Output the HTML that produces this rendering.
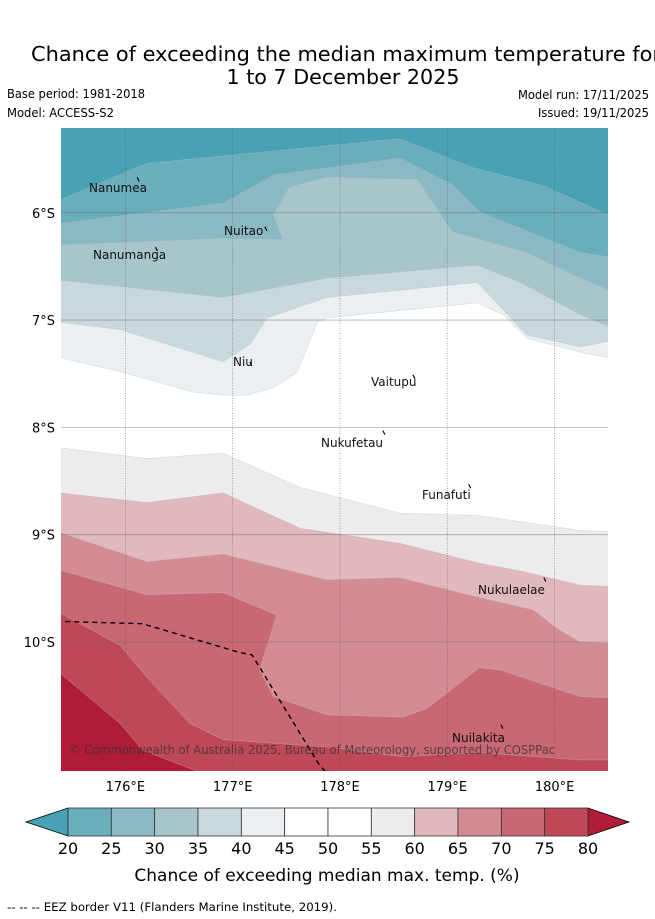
<!DOCTYPE html>
<html><head><meta charset="utf-8"><style>
html,body{margin:0;padding:0;background:#fff;}
svg{display:block;font-family:"DejaVu Sans","Liberation Sans",sans-serif;}
</style></head><body>
<svg id="chart" width="655" height="919" viewBox="0 0 655 919" xmlns="http://www.w3.org/2000/svg">
<text x="31" y="61" font-size="20" textLength="630" lengthAdjust="spacingAndGlyphs">Chance of exceeding the median maximum temperature for</text>
<text x="343" y="84" font-size="20" text-anchor="middle" textLength="233" lengthAdjust="spacingAndGlyphs">1 to 7 December 2025</text>
<text x="7" y="98" font-size="12" textLength="138" lengthAdjust="spacingAndGlyphs">Base period: 1981-2018</text>
<text x="7" y="117" font-size="12" textLength="107" lengthAdjust="spacingAndGlyphs">Model: ACCESS-S2</text>
<text x="649" y="99" font-size="12" text-anchor="end" textLength="131" lengthAdjust="spacingAndGlyphs">Model run: 17/11/2025</text>
<text x="649" y="117" font-size="12" text-anchor="end" textLength="111" lengthAdjust="spacingAndGlyphs">Issued: 19/11/2025</text>
<defs><clipPath id="mapclip"><rect x="61" y="128" width="547" height="643"/></clipPath></defs>
<g id="map" clip-path="url(#mapclip)"></g>
<g id="axes"></g>
<g id="cbar"></g>
<text x="327" y="881" font-size="17" text-anchor="middle">Chance of exceeding median max. temp. (%)</text>
<text x="7" y="911" font-size="11.5" textLength="330" lengthAdjust="spacingAndGlyphs">-- -- -- EEZ border V11 (Flanders Marine Institute, 2019).</text>
</svg>
<script>
const levels = [20,25,30,35,40,45,55,60,65,70,75,80];
const bandColors = ["#48a1b4","#6aadbb","#8ab8c3","#a8c6ca","#c8d8dd","#ebeff2","#ffffff","#eeebec","#e0b8bd","#d48c94","#c96872","#bf4857","#b01c38"];
const cbarLabels = [20,25,30,35,40,45,50,55,60,65,70,75,80];
const lonTicks = [176,177,178,179,180];
const latTicks = [6,7,8,9,10];
// contour boundaries [lon, lat(S)] for each threshold
const b20 = [[175.39,5.88],[176.2,5.54],[178.56,5.31],[179.24,5.58],[179.9,5.75],[180.5,6.02]];
const b25 = [[175.39,6.10],[176.91,5.91],[177.38,5.65],[178.56,5.49],[179.05,5.74],[179.3,5.99],[180.24,6.37],[180.5,6.41]];
const b30 = [[175.39,6.30],[176.91,6.24],[177.47,6.25],[177.38,6.02],[177.53,5.76],[177.88,5.67],[178.72,5.69],[179.05,6.18],[179.74,6.37],[180.24,6.61],[180.5,6.72]];
const b35 = [[175.39,6.63],[176.91,6.79],[177.88,6.61],[179.28,6.49],[179.68,6.65],[180.24,6.95],[180.5,7.06]];
const b40 = [[175.39,7.02],[175.95,7.09],[176.63,7.30],[176.91,7.39],[177.16,7.23],[177.32,6.98],[177.88,6.79],[179.28,6.65],[179.74,7.14],[180.24,7.25],[180.5,7.2]];
const b45 = [[175.39,7.35],[175.95,7.48],[176.63,7.67],[176.91,7.70],[177.13,7.70],[177.38,7.63],[177.6,7.49],[177.79,7.02],[177.88,6.98],[179.28,6.84],[179.52,6.95],[179.74,7.17],[180.24,7.30],[180.5,7.35]];
const b55 = [[175.39,8.19],[176.2,8.29],[176.91,8.24],[177.63,8.56],[178.56,8.80],[179.28,8.82],[180.24,8.96],[180.5,8.97]];
const b60 = [[175.39,8.61],[176.2,8.70],[176.91,8.61],[177.63,8.94],[178.56,9.08],[179.28,9.26],[179.74,9.35],[180.24,9.47],[180.5,9.48]];
const b65 = [[175.39,8.98],[176.2,9.25],[176.91,9.18],[177.88,9.42],[178.56,9.40],[179.28,9.58],[179.8,9.70],[180.02,9.87],[180.24,10.0],[180.5,10.01]];
const b70 = [[175.39,9.33],[176.2,9.56],[176.91,9.54],[177.41,9.75],[177.25,10.26],[177.38,10.51],[177.88,10.68],[178.59,10.70],[178.81,10.62],[179.3,10.24],[179.49,10.26],[180.24,10.51],[180.5,10.52]];
const b75 = [[175.39,9.73],[175.95,10.03],[176.2,10.33],[176.6,10.76],[176.91,10.91],[177.88,10.98],[178.59,11.07],[179.28,11.03],[180.24,11.1],[180.5,11.1]];
const b80 = [[175.39,10.29],[175.95,10.76],[176.16,11.01],[176.79,11.25]];
const boundaries = [b20,b25,b30,b35,b40,b45,b55,b60,b65,b70,b75,b80];
const island65 = [[177.74,10.25],[177.88,10.12],[178.59,10.25],[177.88,10.34]];
const eez = [[175.44,9.81],[176.16,9.83],[177.07,10.1],[177.18,10.12],[177.81,11.15],[177.95,11.3]];
const islandNames = ["Nanumea","Nuitao","Nanumanga","Niu","Vaitupu","Nukufetau","Funafuti","Nukulaelae","Nuilakita"];
const islandLon = [176.11,177.3,176.28,177.16,178.68,178.4,179.2,179.9,179.5];
const islandLat = [5.67,6.13,6.32,7.39,7.51,8.03,8.53,9.4,10.77];
const labelX = [89,224,93,233,371,321,422,478,452];
const labelY = [192,235,259,366,386,447,499,594,742];

const NS="http://www.w3.org/2000/svg";
const X0=61,Y0=128,PX=107.3,LON0=175.4,LAT0=5.21;
function xs(lon){return X0+(lon-LON0)*PX;}
function ys(lat){return Y0+(lat-LAT0)*PX;}
function mk(tag,attrs,parent){const e=document.createElementNS(NS,tag);for(const k in attrs)e.setAttribute(k,attrs[k]);parent.appendChild(e);return e;}
const map=document.getElementById('map');
const bg=mk('rect',{x:X0,y:Y0,width:547,height:643,fill:bandColors[0]},map);


boundaries.forEach((b,i)=>{
  let pts=b.map(p=>xs(p[0]).toFixed(1)+','+ys(p[1]).toFixed(1));
  pts.push('620,790','50,790');
  const p=mk('polygon',{points:pts.join(' '),fill:bandColors[i+1],stroke:"#b9c2c6",'stroke-width':0.5,'stroke-opacity':0.6},map);
  
  
});
const isl=mk('polygon',{points:island65.map(p=>xs(p[0])+','+ys(p[1])).join(' '),fill:bandColors[9]},map);


lonTicks.forEach(l=>{const g=mk('line',{x1:xs(l),x2:xs(l),y1:Y0,y2:771,stroke:"#555",'stroke-width':0.7,'stroke-dasharray':'1,1.5','stroke-opacity':0.7},map);
 
 });
latTicks.forEach(l=>{const g=mk('line',{x1:X0,x2:608,y1:ys(l),y2:ys(l),stroke:"#666",'stroke-width':0.8,'stroke-opacity':0.5},map);
 
 });
const ez=mk('polyline',{points:eez.map(p=>xs(p[0])+','+ys(p[1])).join(' '),fill:"none",stroke:"#000",'stroke-width':1.4,'stroke-dasharray':'5,4'},map);


islandNames.forEach((n,i)=>{
  const m=mk('line',{x1:xs(islandLon[i]),y1:ys(islandLat[i]),x2:xs(islandLon[i])+2,y2:ys(islandLat[i])+4,stroke:"#000",'stroke-width':1.2},map);
  
  
  const t=mk('text',{x:labelX[i],y:labelY[i],'font-size':12,fill:"#111"},map);
  t.textContent=n;
  
  
});
const cp=mk('text',{x:69,y:754,'font-size':12,fill:"#333",'fill-opacity':0.75,textLength:486,lengthAdjust:"spacingAndGlyphs"},map);
cp.textContent="© Commonwealth of Australia 2025, Bureau of Meteorology, supported by COSPPac";


const ax=document.getElementById('axes');
lonTicks.forEach(l=>{const t=mk('text',{x:xs(l),y:791,'font-size':13,'text-anchor':'middle'},ax);t.textContent=(l)+'°E';
 
 });
latTicks.forEach(l=>{const t=mk('text',{x:55,y:ys(l)+5,'font-size':13,'text-anchor':'end'},ax);t.textContent=l+'°S';
 
 });
const cb=document.getElementById('cbar');
const CX0=68,CX1=588,CY0=808,CY1=836,W=(CX1-CX0)/(cbarLabels.length-1);
const lt=mk('polygon',{points:`${CX0},${CY0} ${CX0},${CY1} 26,822`,fill:bandColors[0],stroke:"#000",'stroke-width':0.8},cb);


const rt=mk('polygon',{points:`${CX1},${CY0} ${CX1},${CY1} 629,822`,fill:bandColors[12],stroke:"#000",'stroke-width':0.8},cb);


const cbCols=["#6aadbb","#8ab8c3","#a8c6ca","#c8d8dd","#ebeff2","#ffffff","#ffffff","#eeebec","#e0b8bd","#d48c94","#c96872","#bf4857"];
cbCols.forEach((c,i)=>{const r=mk('rect',{x:CX0+i*W,y:CY0,width:W,height:CY1-CY0,fill:c,stroke:"#333",'stroke-width':0.8},cb);
 
 });
cbarLabels.forEach((v,i)=>{const t=mk('text',{x:CX0+i*W,y:854,'font-size':16,'text-anchor':'middle'},cb);t.textContent=v;
 
 });
</script>
</body></html>
